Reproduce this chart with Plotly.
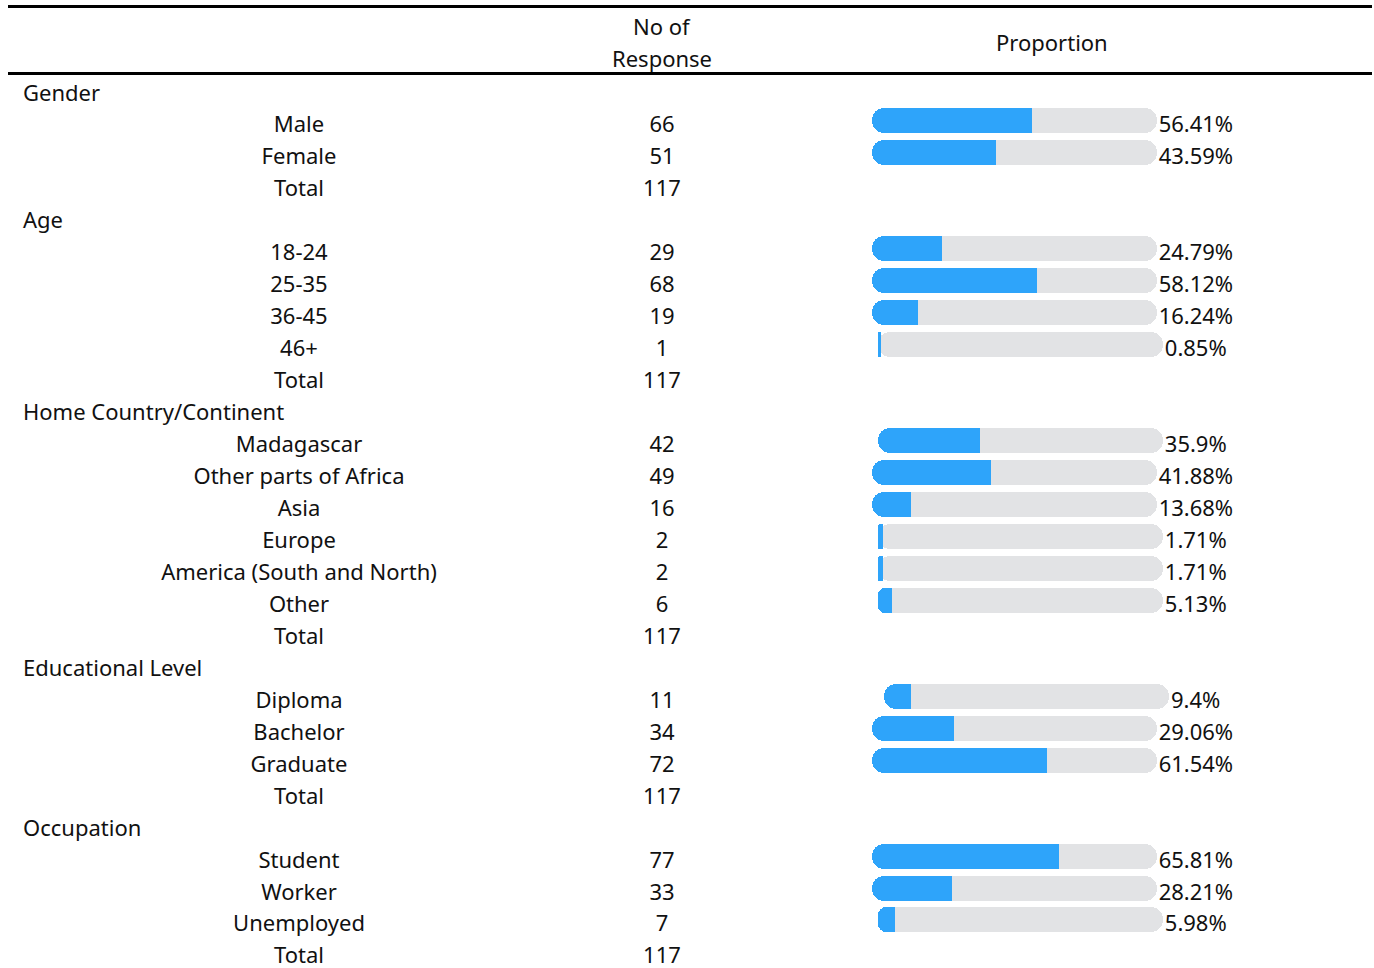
import plotly.graph_objects as go

# ---- data -------------------------------------------------------------
group_names = ["Gender", "Age", "Home Country/Continent", "Educational Level", "Occupation"]

gender_labels = ["Male", "Female"]
gender_counts = [66, 51]
gender_pct = [56.41, 43.59]

age_labels = ["18-24", "25-35", "36-45", "46+"]
age_counts = [29, 68, 19, 1]
age_pct = [24.79, 58.12, 16.24, 0.85]

country_labels = ["Madagascar", "Other parts of Africa", "Asia", "Europe",
                  "America (South and North)", "Other"]
country_counts = [42, 49, 16, 2, 2, 6]
country_pct = [35.9, 41.88, 13.68, 1.71, 1.71, 5.13]

edu_labels = ["Diploma", "Bachelor", "Graduate"]
edu_counts = [11, 34, 72]
edu_pct = [9.4, 29.06, 61.54]

occ_labels = ["Student", "Worker", "Unemployed"]
occ_counts = [77, 33, 7]
occ_pct = [65.81, 28.21, 5.98]

total_label = "Total"
total_count = 117

groups = [
    (group_names[0], gender_labels, gender_counts, gender_pct),
    (group_names[1], age_labels, age_counts, age_pct),
    (group_names[2], country_labels, country_counts, country_pct),
    (group_names[3], edu_labels, edu_counts, edu_pct),
    (group_names[4], occ_labels, occ_counts, occ_pct),
]

# ---- layout constants (pixel space) ----------------------------------
W, H = 1374, 968
FONT = "Noto Sans"
FS = 22
TEXT_COLOR = "#111111"
BLUE = "#2ea4fa"
GREY = "#e2e3e5"

ROW0 = 92.0
ROW_H = 31.96
TEXT_DY = 3          # scatter text sits slightly high; nudge it down
LABEL_X = 299
GROUP_X = 23
COUNT_X = 662
PROP_CX = 1052
BAR_W = 285
BAR_H = 25
GAP = 2
RADIUS = 12


def pct_text(p):
    return f"{p:g}%"


def text_width(s):
    # rough advance widths used to center the bar + label pair
    w = 0.0
    for ch in s:
        if ch == "%":
            w += 19.0
        elif ch == ".":
            w += 5.5
        else:
            w += 12.3
    return w


# build rows
group_y, group_t = [], []
item_y, item_t = [], []
cnt_y, cnt_t = [], []
bar_y, bar_start, bar_val, pct_labels, pct_x = [], [], [], [], []

r = 0
for gname, labels, counts, pcts in groups:
    y = ROW0 + r * ROW_H
    group_y.append(y)
    group_t.append(gname)
    r += 1
    for lab, c, p in zip(labels, counts, pcts):
        y = ROW0 + r * ROW_H
        item_y.append(y)
        item_t.append(lab)
        cnt_y.append(y)
        cnt_t.append(str(c))
        t = pct_text(p)
        x0 = PROP_CX - (BAR_W + GAP + text_width(t)) / 2
        bar_y.append(y - 3)
        bar_start.append(x0)
        bar_val.append(p)
        pct_labels.append(t)
        pct_x.append(x0 + BAR_W + GAP)
        r += 1
    y = ROW0 + r * ROW_H
    item_y.append(y)
    item_t.append(total_label)
    cnt_y.append(y)
    cnt_t.append(str(total_count))
    r += 1

fig = go.Figure()

# grey track (pill: both ends rounded because a base is given)
fig.add_trace(go.Bar(
    orientation="h", y=bar_y, x=[BAR_W] * len(bar_y), base=bar_start, width=BAR_H,
    marker=dict(color=GREY, cornerradius=RADIUS, line=dict(width=0)),
    hoverinfo="skip", showlegend=False,
))

# blue fill: a rounded piece for the left cap ...
fill_len = [v / 100 * BAR_W for v in bar_val]
fig.add_trace(go.Bar(
    orientation="h", y=bar_y, x=fill_len, base=bar_start, width=BAR_H,
    marker=dict(color=BLUE, cornerradius=RADIUS, line=dict(width=0)),
    hoverinfo="skip", showlegend=False,
))
# ... and a square piece so the right end of the fill is flat
sq_off = [min(RADIUS, f / 2) for f in fill_len]
fig.add_trace(go.Bar(
    orientation="h", y=bar_y, x=[f - o for f, o in zip(fill_len, sq_off)],
    base=[s + o for s, o in zip(bar_start, sq_off)], width=BAR_H,
    marker=dict(color=BLUE, line=dict(width=0)),
    hoverinfo="skip", showlegend=False,
))

tf = dict(family=FONT, size=FS, color=TEXT_COLOR)
fig.add_trace(go.Scatter(x=[GROUP_X] * len(group_y), y=[y + TEXT_DY for y in group_y], text=group_t,
                         mode="text", textposition="middle right", textfont=tf,
                         hoverinfo="skip", showlegend=False))
fig.add_trace(go.Scatter(x=[LABEL_X] * len(item_y), y=[y + TEXT_DY for y in item_y], text=item_t,
                         mode="text", textposition="middle center", textfont=tf,
                         hoverinfo="skip", showlegend=False))
fig.add_trace(go.Scatter(x=[COUNT_X] * len(cnt_y), y=[y + TEXT_DY for y in cnt_y], text=cnt_t,
                         mode="text", textposition="middle center", textfont=tf,
                         hoverinfo="skip", showlegend=False))
fig.add_trace(go.Scatter(x=pct_x, y=[y + 3 + TEXT_DY for y in bar_y], text=pct_labels,
                         mode="text", textposition="middle right", textfont=tf,
                         hoverinfo="skip", showlegend=False))

# header
fig.add_annotation(x=COUNT_X, y=26, text="No of", showarrow=False, font=tf, xanchor="center", yanchor="middle")
fig.add_annotation(x=COUNT_X, y=58, text="Response", showarrow=False, font=tf, xanchor="center", yanchor="middle")
fig.add_annotation(x=PROP_CX, y=42, text="Proportion", showarrow=False, font=tf, xanchor="center", yanchor="middle")

fig.add_shape(type="line", x0=8, x1=1372, y0=6.5, y1=6.5, line=dict(color="black", width=3))
fig.add_shape(type="line", x0=8, x1=1372, y0=73.5, y1=73.5, line=dict(color="black", width=3))

fig.update_layout(
    width=W, height=H, margin=dict(l=0, r=0, t=0, b=0),
    paper_bgcolor="white", plot_bgcolor="white",
    barmode="overlay", bargap=0,
    xaxis=dict(range=[0, W], visible=False, fixedrange=True),
    yaxis=dict(range=[H, 0], visible=False, fixedrange=True),
)

fig.write_html("out.html", config={"displayModeBar": False})
